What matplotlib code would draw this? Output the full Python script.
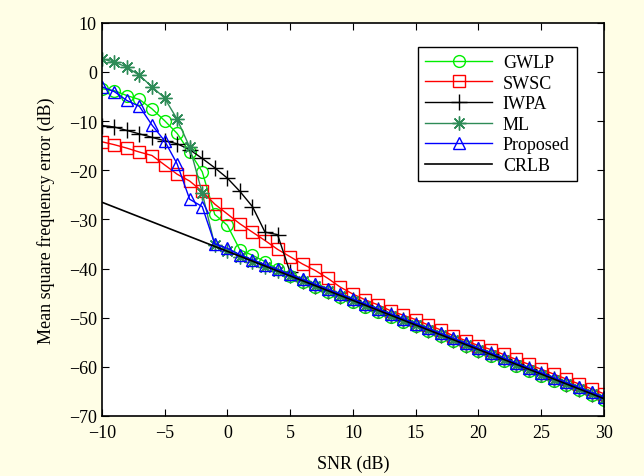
import matplotlib
matplotlib.use('Agg')
import matplotlib.pyplot as plt

snr = list(range(-10, 31))

crlb = [-26.5, -27.5, -28.5, -29.5, -30.5, -31.5, -32.5, -33.5, -34.5, -35.5,
        -36.5, -37.5, -38.5, -39.5, -40.5, -41.5, -42.5, -43.5, -44.5, -45.5,
        -46.5, -47.5, -48.5, -49.5, -50.5, -51.5, -52.5, -53.5, -54.5, -55.5,
        -56.5, -57.5, -58.5, -59.5, -60.5, -61.5, -62.5, -63.5, -64.5, -65.5,
        -66.5]
gwlp = [-3.4, -3.8, -4.8, -5.6, -7.5, -9.9, -12.5, -16.3, -20.3, -29.0,
        -31.2, -36.2, -37.3, -38.6, -40.1, -41.6, -42.8, -43.8, -44.8, -45.8,
        -46.8, -47.8, -48.8, -49.8, -50.8, -51.8, -52.8, -53.8, -54.8, -55.8,
        -56.8, -57.8, -58.8, -59.8, -60.8, -61.8, -62.8, -63.8, -64.8, -65.8,
        -66.8]
swsc = [-14.2, -14.8, -15.5, -16.3, -17.0, -18.9, -20.8, -22.2, -24.3, -26.9,
        -28.9, -30.9, -32.6, -34.3, -36.1, -37.6, -39.1, -40.4, -42.0, -43.8,
        -45.2, -46.4, -47.4, -48.6, -49.5, -50.4, -51.5, -52.5, -53.7, -54.7,
        -55.7, -56.5, -57.5, -58.5, -59.5, -60.5, -61.5, -62.5, -63.5, -64.5,
        -65.5]
iwpa = [-10.9, -11.2, -11.9, -12.6, -13.3, -14.0, -14.6, -15.8, -17.6, -19.5,
        -21.6, -24.3, -27.4, -32.6, -33.1, -40.8, -42.5, -43.5, -44.5, -45.5,
        -46.5, -47.5, -48.5, -49.5, -50.5, -51.5, -52.5, -53.5, -54.5, -55.5,
        -56.5, -57.5, -58.5, -59.5, -60.5, -61.5, -62.5, -63.5, -64.5, -65.5,
        -66.5]
ml = [2.7, 2.0, 1.0, -0.7, -3.0, -5.3, -9.6, -15.3, -24.6, -35.3,
      -36.4, -37.6, -38.6, -39.6, -40.6, -41.6, -42.6, -43.6, -44.6, -45.6,
      -46.6, -47.6, -48.6, -49.6, -50.6, -51.6, -52.6, -53.6, -54.6, -55.6,
      -56.6, -57.6, -58.6, -59.6, -60.6, -61.6, -62.6, -63.6, -64.6, -65.6,
      -66.6]
proposed = [-3.0, -4.0, -5.8, -7.0, -10.8, -14.0, -18.7, -25.9, -27.4, -35.0,
            -35.9, -37.2, -38.2, -39.2, -40.2, -41.2, -42.2, -43.2, -44.2, -45.2,
            -46.2, -47.2, -48.2, -49.2, -50.2, -51.2, -52.2, -53.2, -54.2, -55.2,
            -56.2, -57.2, -58.2, -59.2, -60.2, -61.2, -62.2, -63.2, -64.2, -65.2,
            -66.2]

plt.rcParams['font.family'] = ['Liberation Serif', 'DejaVu Serif']
plt.rcParams['font.size'] = 13

bg = '#fffee6'
fig = plt.figure(figsize=(6.44, 4.77), dpi=100, facecolor=bg)
ax = fig.add_axes([0.158, 0.126, 0.780, 0.824])

ax.plot(snr, gwlp, color='#00ee00', marker='o', ms=8.5, mfc='none', lw=1, label='GWLP')
ax.plot(snr, swsc, color='#ff0000', marker='s', ms=8.5, mfc='none', lw=1, label='SWSC')
ax.plot(snr, iwpa, color='black', marker='+', ms=11, mew=1, lw=1, label='IWPA')
ax.plot(snr, ml, color='#2e8b57', marker=(8, 2, 0), ms=10, mew=1, lw=1, label='ML')
ax.plot(snr, proposed, color='#0000ff', marker='^', ms=8.5, mfc='none', lw=1, label='Proposed')
ax.plot(snr, crlb, color='black', lw=1.2, label='CRLB')

ax.set_xlim(-10, 30)
ax.set_ylim(-70, 10)
ax.set_xticks(range(-10, 31, 5))
ax.set_yticks(range(-70, 11, 10))
ax.tick_params(direction='in', top=True, right=True, length=5, width=0.8, labelsize=13)
ax.tick_params(axis='x', pad=6)
for s in ax.spines.values():
    s.set_linewidth(1.2)

ax.set_xlabel('SNR (dB)', fontsize=13, labelpad=10)
ax.set_ylabel('Mean square frequency error (dB)', fontsize=13, labelpad=10)

leg = ax.legend(loc='upper right', bbox_to_anchor=(0.946, 0.939), fontsize=13,
                fancybox=False, edgecolor='black', framealpha=1,
                handlelength=3.7, labelspacing=0.2, borderpad=0.4,
                handletextpad=0.6, borderaxespad=0)
leg.get_frame().set_linewidth(1.0)

fig.savefig('out.png', dpi=100, facecolor=bg)
